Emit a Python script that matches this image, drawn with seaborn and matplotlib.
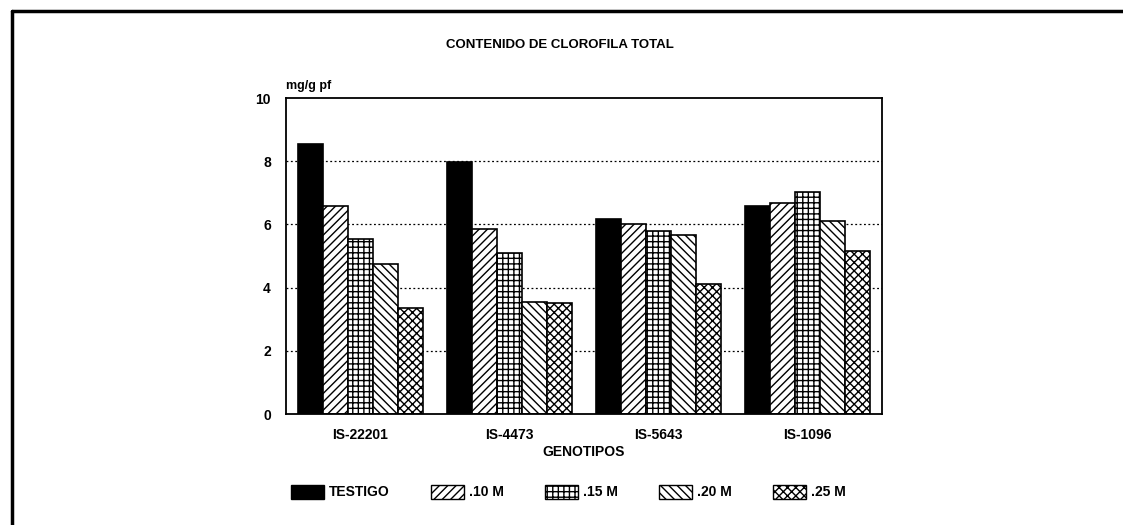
import numpy as np
import pandas as pd
import matplotlib
matplotlib.use("Agg")
import matplotlib.pyplot as plt
import matplotlib.patches as mpatches
import seaborn as sns

genotipos = ["IS-22201", "IS-4473", "IS-5643", "IS-1096"]
tratamientos = ["TESTIGO", ".10 M", ".15 M", ".20 M", ".25 M"]
testigo = [8.54, 7.98, 6.16, 6.58]
m10 = [6.58, 5.87, 6.00, 6.69]
m15 = [5.53, 5.10, 5.79, 7.04]
m20 = [4.75, 3.53, 5.68, 6.11]
m25 = [3.36, 3.50, 4.13, 5.17]

series = [testigo, m10, m15, m20, m25]
df = pd.DataFrame({
    "genotipo": np.repeat([genotipos], len(tratamientos), axis=0).ravel(),
    "tratamiento": np.repeat(tratamientos, len(genotipos)),
    "valor": np.concatenate(series),
})

sns.set_style("white")
plt.rcParams["font.family"] = ["Liberation Sans", "DejaVu Sans"]
plt.rcParams["font.weight"] = "bold"
plt.rcParams["text.color"] = "black"
plt.rcParams["axes.labelcolor"] = "black"
plt.rcParams["xtick.color"] = "black"
plt.rcParams["ytick.color"] = "black"
plt.rcParams["hatch.linewidth"] = 1.0

fills = ["black", "white", "white", "white", "white"]
hatches = [None, "////", "+++", "\\\\\\\\", "xxxx"]

fig = plt.figure(figsize=(11.23, 5.25), dpi=100)
ax = fig.add_axes([0.2547, 0.2114, 0.5307, 0.6019])

sns.barplot(data=df, x="genotipo", y="valor", hue="tratamiento",
            order=genotipos, hue_order=tratamientos,
            palette=fills, width=0.84, edgecolor="black", linewidth=1.2,
            saturation=1, legend=False, ax=ax)

for cont, h in zip(ax.containers, hatches):
    for bar in cont:
        if h:
            bar.set_hatch(h)

ax.set_ylim(0, 10)
ax.set_yticks([0, 2, 4, 6, 8, 10])
ax.set_xlim(-0.5, 3.5)
for y in [2, 4, 6, 8]:
    ax.axhline(y, color="black", linestyle=(0, (1.5, 2)), linewidth=0.9, zorder=0)
for s in ax.spines.values():
    s.set_color("black")
    s.set_linewidth(1.3)
ax.tick_params(axis="x", labelsize=10, length=0, pad=10)
ax.tick_params(axis="y", labelsize=10, length=0, pad=11)
ax.set_xlabel("GENOTIPOS", fontsize=10, fontweight="bold", labelpad=2)
ax.set_ylabel("")
ax.text(0.0, 1.02, "mg/g pf", transform=ax.transAxes, fontsize=9,
        fontweight="bold", ha="left", va="bottom")

fig.text(0.499, 0.915, "CONTENIDO DE CLOROFILA TOTAL", ha="center",
         va="center", fontsize=9.5, fontweight="bold")

handles = []
for lab, c, h in zip(tratamientos, fills, hatches):
    handles.append(mpatches.Patch(facecolor=c, edgecolor="black", hatch=h,
                                  label=lab))
fig.legend(handles=handles, loc="center", bbox_to_anchor=(0.506, 0.063),
           ncol=5, frameon=False, fontsize=10, handlelength=2.4,
           handleheight=1.2, handletextpad=0.3, columnspacing=3.0)

# marco del dibujo
fig.add_artist(plt.Line2D([0.011, 0.011], [0, 0.979], color="black", lw=2.5,
                          transform=fig.transFigure))
fig.add_artist(plt.Line2D([0.011, 1.0], [0.979, 0.979], color="black", lw=2.5,
                          transform=fig.transFigure))

fig.savefig("out.png", dpi=100)
